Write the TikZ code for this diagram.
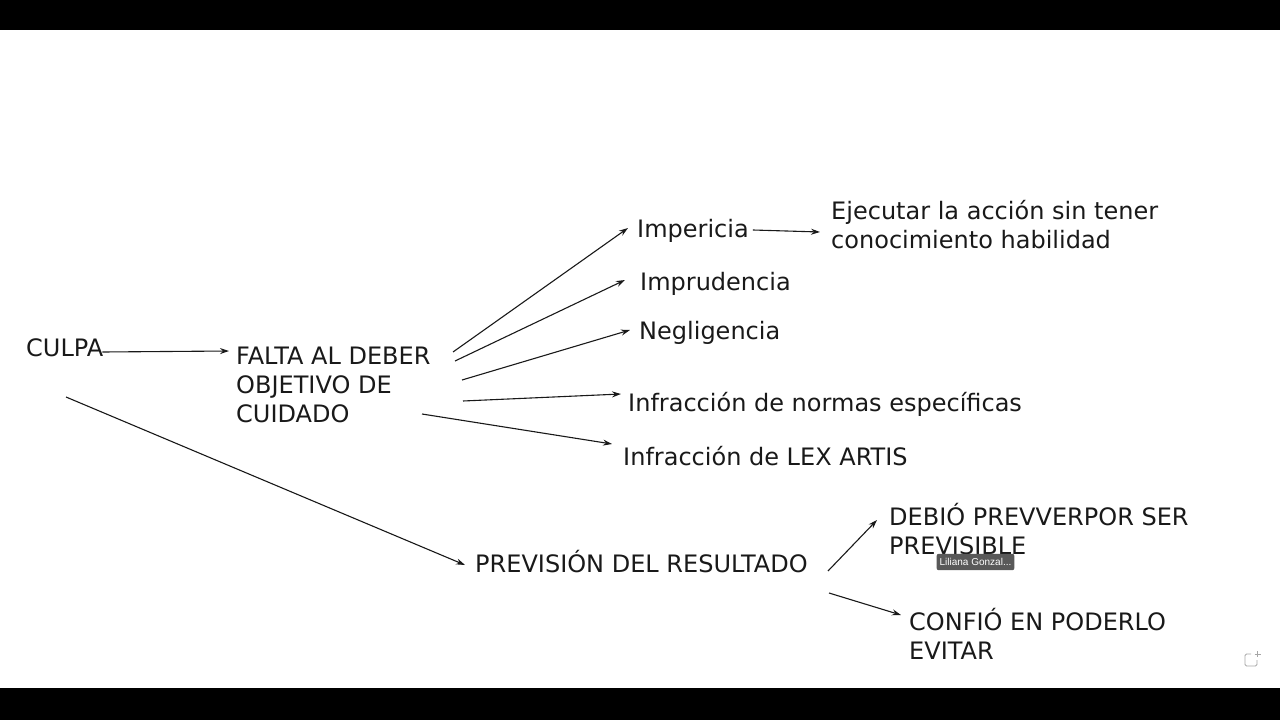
\documentclass[tikz,border=0pt]{standalone}
\usepackage{fontspec}
\setmainfont{DejaVu Sans}
\newfontfamily\tipfont{Liberation Sans}
\usetikzlibrary{calc,arrows.meta,positioning}
\tikzstyle{l2}=[line width=1.1pt]
\tikzstyle{txt}=[anchor=base west, inner sep=0pt, align=left, font=\fontsize{24}{29}\selectfont, text=black!90]
\tikzstyle{arr}=[l2, ->, >={Stealth[length=9pt, width=6pt, inset=3pt]}, draw=black!90]
\tikzstyle{bar}=[fill=black]
\tikzstyle{tip}=[fill=black!65, rounded corners=2pt, text=white, font=\tipfont\fontsize{10}{12}\selectfont, inner xsep=3pt, inner ysep=4.5pt]
\tikzstyle{icon}=[draw=black!35, line width=0.9pt, rounded corners=1.5pt]

\begin{document}
\begin{tikzpicture}[x=1pt, y=-1pt]
    \useasboundingbox (0,0) rectangle (1280,720);
    \path[bar] (0,0) rectangle (1280,30);
    \path[bar] (0,688) rectangle (1280,720);

    % main column (multi-line nodes sit on their last baseline)
    \node[txt] (culpa) at (26,356) {CULPA};
    \node[txt] (falta) at (236,422) {FALTA AL DEBER\\OBJETIVO DE\\CUIDADO};
    \node[txt] (prev) at (475,572) {PREVISIÓN DEL RESULTADO};

    % kinds of fault
    \node[txt] (imper) at (637,237) {Impericia};
    \node[txt] (imprud) at (640,290) {Imprudencia};
    \node[txt] (negl) at (639,339) {Negligencia};
    \node[txt] (normas) at (628,411) {Infracción de normas específicas};
    \node[txt] (lex) at (623,465) {Infracción de LEX ARTIS};
    \node[txt] (ejec) at (831,248) {Ejecutar la acción sin tener\\conocimiento habilidad};

    % foresight
    \node[txt] (debio) at (889,554) {DEBIÓ PREVVERPOR SER\\PREVISIBLE};
    \node[txt] (confio) at (909,659) {CONFIÓ EN PODERLO\\EVITAR};
    \node[tip] (tipbox) at (975.5,562) {Liliana Gonzal...};

    \draw[arr] ($(culpa.base east)+(-1,-4)$) -- ($(falta.base west)+(-7,-71)$);
    \draw[arr] ($(culpa.base west)+(40,41)$) -- ($(prev.base west)+(-10,-7)$);

    \draw[arr] ($(falta.base west)+(217,-70)$) -- ($(imper.base west)+(-9,-9)$);
    \draw[arr] ($(falta.base west)+(219,-61)$) -- ($(imprud.base west)+(-15,-10)$);
    \draw[arr] ($(falta.base west)+(226,-42)$) -- ($(negl.base west)+(-9,-9)$);
    \draw[arr] ($(falta.base west)+(227,-21)$) -- ($(normas.base west)+(-7,-17)$);
    \draw[arr] ($(falta.base west)+(186,-8)$) -- ($(lex.base west)+(-11,-21)$);
    \draw[arr] ($(imper.base east)+(4,-7)$) -- ($(ejec.base west)+(-11,-16)$);

    \draw[arr] ($(prev.base west)+(353,-1)$) -- ($(debio.base west)+(-12,-34)$);
    \draw[arr] ($(prev.base west)+(354,21)$) -- ($(confio.base west)+(-8,-44)$);

    % corner icon
    \draw[icon] (1257,660) -- (1257,666) -- (1245,666) -- (1245,654) -- (1251,654);
    \draw[icon, rounded corners=0pt] (1254.5,654) -- (1260.5,654) (1257.5,651) -- (1257.5,657);
\end{tikzpicture}
\end{document}
